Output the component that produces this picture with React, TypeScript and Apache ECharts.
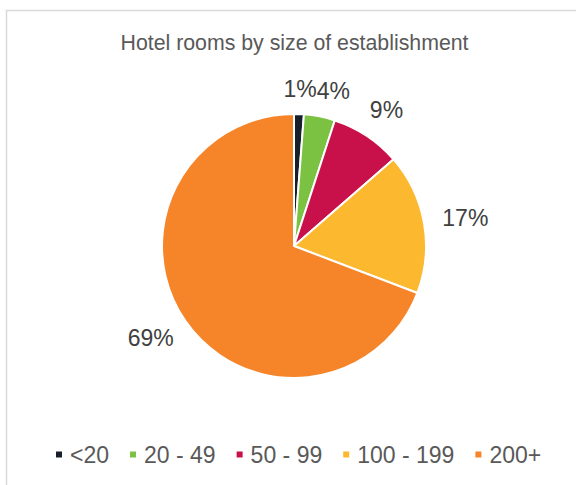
import React, { useEffect, useRef } from "react";
import * as echarts from "echarts";

const titleText = "Hotel rooms by size of establishment";
const categories = ["<20", "20 - 49", "50 - 99", "100 - 199", "200+"];
const shares = [1.2, 3.8, 8.6, 17.2, 69.2];
const colors = ["#17202a", "#7cc242", "#c8104a", "#fcb930", "#f6852a"];

const FONT = "'Liberation Sans', Arial, sans-serif";

export default function App() {
  const ref = useRef<HTMLDivElement>(null);
  useEffect(() => {
    if (!ref.current) return;
    const chart = echarts.init(ref.current, null, { renderer: "svg" });
    const cx = 294;
    const cy = 246;
    const r = 132;
    const labelR = 151;
    const total = shares.reduce((a, b) => a + b, 0);
    const mids: number[] = [];
    let acc = 0;
    shares.forEach((v) => {
      mids.push(((acc + v / 2) / total) * 2 * Math.PI);
      acc += v;
    });
    let prevRight = -Infinity;
    let prevTop = Infinity;
    chart.setOption({
      animation: false,
      title: {
        text: titleText,
        left: 294.5,
        textAlign: "center",
        top: 32,
        padding: 0,
        textStyle: { fontFamily: FONT, fontSize: 21.3, fontWeight: "normal", color: "#595959" },
      },
      graphic: [
        {
          type: "rect",
          z: -10,
          shape: { x: 6.5, y: 10.5, width: 700, height: 600 },
          style: { fill: "none", stroke: "#d9d9d9", lineWidth: 1.5 },
        },
      ],
      legend: {
        left: 54,
        top: 443,
        padding: 0,
        icon: "rect",
        itemWidth: 8,
        itemHeight: 8,
        itemGap: 19,
        data: categories,
        textStyle: { fontFamily: FONT, fontSize: 23, color: "#595959", padding: [0, 0, 0, 2] },
      },
      series: [
        {
          type: "pie",
          center: [cx, cy],
          radius: r,
          startAngle: 90,
          clockwise: true,
          avoidLabelOverlap: false,
          itemStyle: { borderColor: "#ffffff", borderWidth: 2 },
          label: {
            show: true,
            position: "outside",
            fontFamily: FONT,
            fontSize: 23,
            color: "#404040",
            formatter: (p: any) => Math.round(p.percent) + "%",
          },
          labelLine: { show: false, length: 14, length2: 0 },
          labelLayout: (p: any) => {
            const a = mids[p.dataIndex];
            const dx = Math.sin(a);
            const dy = -Math.cos(a);
            const w = p.labelRect.width;
            const h = p.labelRect.height;
            const rr = dy < -0.95 ? labelR - 5 : labelR;
            let x = cx + dx * rr + (dx * w) / 2;
            let y = cy + dy * rr + (dy * h) / 2;
            if (p.dataIndex > 0 && dx > 0 && dy < 0) {
              const left = x - w / 2;
              const top = y - h / 2;
              if (left < prevRight && top < prevTop + h) {
                x += prevRight - left;
              }
            }
            prevRight = x + w / 2;
            prevTop = y - h / 2;
            return { x, y, align: "center", verticalAlign: "middle" };
          },
          emphasis: { disabled: true },
          data: categories.map((name, i) => ({
            name,
            value: shares[i],
            itemStyle: { color: colors[i] },
          })),
        },
      ],
    });
    return () => chart.dispose();
  }, []);
  return (
    <div
      ref={ref}
      style={{ position: "absolute", left: 0, top: 0, width: 576, height: 485, background: "#ffffff" }}
    />
  );
}
